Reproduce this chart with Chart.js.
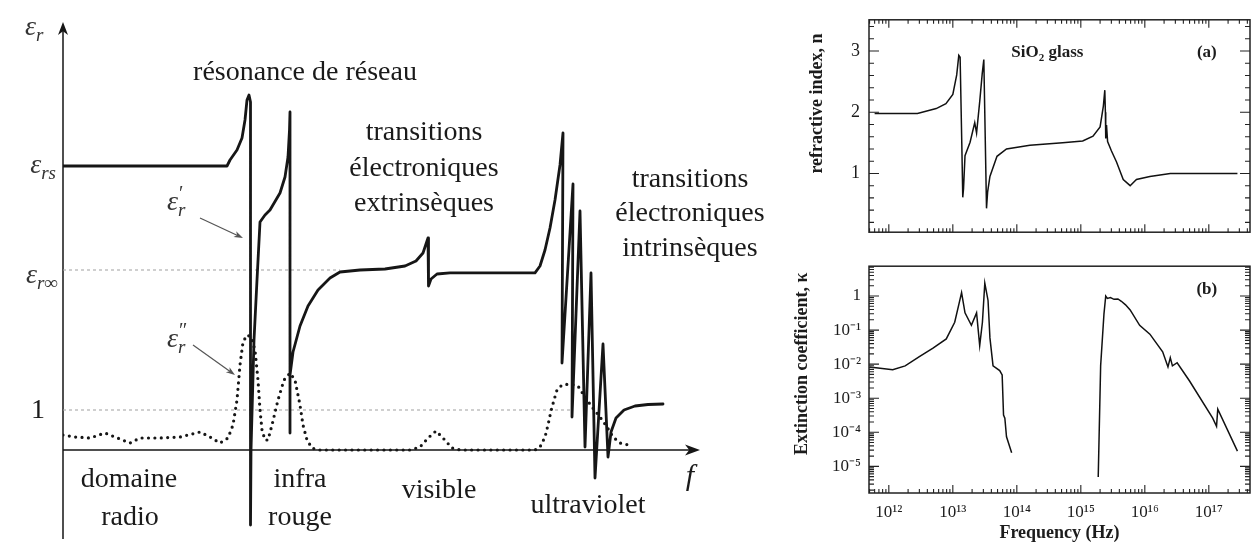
<!DOCTYPE html>
<html>
<head>
<meta charset="utf-8">
<script src="https://cdn.jsdelivr.net/npm/chart.js@4.4.1/dist/chart.umd.min.js"></script>
<style>
html,body{margin:0;padding:0;background:#fff;}
body{width:1257px;height:542px;position:relative;overflow:hidden;}
canvas{position:absolute;}
#left{left:0;top:0;}
#ca{left:790px;top:0;}
#cb{left:790px;top:248px;}
</style>
</head>
<body>
<canvas id="left" width="800" height="542"></canvas>
<canvas id="ca" width="467" height="252"></canvas>
<canvas id="cb" width="467" height="294"></canvas>
<script>
// ================= LEFT SCHEMATIC (ε_r versus f) =================
// x : position along the f axis (arbitrary units), y : ε_r (arbitrary units, 1 = unit level)
const epsPrimeX = [0,164,167,174,179,182,184,186,187.5,187.5,188,189,191,194,197,202,207,217,222,225,226.5,227,227,227,230,237,245,255,267,277,297,322,342,353,360,365,365.5,368,374,387,472,477,482,487,492,497,500,499,510,509,517,522,528,532,540,545,548,553,561,572,585,600];
const epsPrimeY = [7.1,7.1,7.25,7.5,7.8,8.25,8.75,8.875,8.7,-1.875,0,0.925,2.75,4.25,5.7,5.875,6.0,6.425,6.825,7.325,8.0,8.45,0.425,1.875,2.45,3.1,3.6,4.0,4.3,4.45,4.5,4.525,4.6,4.725,4.925,5.3,4.1,4.275,4.4,4.43,4.43,4.6,5.0,5.55,6.25,7.125,7.925,2.175,6.65,0.825,5.975,0.075,4.425,-0.7,2.65,-0.175,0.45,0.8,1.0,1.1,1.1375,1.15];
const epsSecondX = [0,12,27,42,52,67,77,97,117,137,147,157,165,170,174,177,180,184,188,192,195,197,199,202,205,209,215,221,227,232,237,240,244,249,255,347,357,365,373,380,389,397,472,477,482,485,488,491,494,499,507,515,522,529,537,544,550,557,570];
const epsSecondY = [0.375,0.325,0.3,0.425,0.325,0.175,0.3,0.3,0.325,0.45,0.325,0.175,0.3,0.625,1.25,2.125,2.7,2.875,2.825,2.5,1.75,1.0,0.5,0.25,0.25,0.625,1.25,1.75,1.925,1.75,1.125,0.625,0.25,0.05,0,0,0.075,0.3,0.475,0.3,0.05,0,0,0.075,0.325,0.625,0.975,1.25,1.5,1.625,1.65,1.6,1.325,1.075,0.825,0.575,0.325,0.175,0.1];
const levelValues = [7.1, 4.5, 1];          // ε_rs, ε_r∞, 1
const levelLineEnds = [0, 277, 509];          // extent of the dotted guide lines (ε_rs has none)

// ================= RIGHT PANELS (SiO2 glass) =================
const freqN = [6.0e11,2.8e12,5.5e12,7.8e12,1.0e13,1.15e13,1.24e13,1.30e13,1.38e13,1.43e13,1.47e13,1.55e13,1.86e13,2.2e13,2.35e13,2.64e13,2.88e13,3.05e13,3.36e13,3.5e13,3.8e13,4.9e13,6.9e13,1.6e14,5.2e14,1.07e15,1.55e15,2.0e15,2.25e15,2.37e15,2.42e15,2.45e15,2.52e15,2.62e15,3.0e15,3.6e15,4.6e15,5.9e15,7.4e15,1.2e16,2.5e16,2.8e17];
const nValues = [1.98,1.98,2.06,2.14,2.29,2.61,2.93,2.90,1.5,0.61,0.75,1.29,1.51,1.83,1.66,2.19,2.63,2.86,0.43,0.7,0.95,1.28,1.40,1.46,1.50,1.53,1.61,1.76,2.1,2.36,2.0,1.57,1.79,1.52,1.37,1.19,0.90,0.80,0.90,0.95,1.0,1.0];
const freqK1 = [5.0e11,1.15e12,1.8e12,3.0e12,4.9e12,7.9e12,1.07e13,1.25e13,1.37e13,1.55e13,1.95e13,2.35e13,2.63e13,2.9e13,3.16e13,3.55e13,3.8e13,4.25e13,5.4e13,5.9e13,6.2e13,6.5e13,6.9e13,8.3e13];
const kappa1 = [8.3e-3,6.9e-3,8.9e-3,1.66e-2,2.95e-2,5.5e-2,0.17,0.6,1.26,0.32,0.138,0.32,0.035,0.17,2.4,0.74,0.059,0.0089,0.0065,0.0048,3.2e-4,2.6e-4,7.4e-5,2.5e-5];
const freqK2 = [1.87e15,2.04e15,2.3e15,2.45e15,2.6e15,2.9e15,3.3e15,3.8e15,4.3e15,5.0e15,5.9e15,8.3e15,1.2e16,1.9e16,2.3e16,2.5e16,2.7e16,3.2e16,5.0e16,1.15e17,1.32e17,1.38e17,2.8e17];
const kappa2 = [4.9e-6,8.9e-3,0.3,1.0,0.85,0.9,0.8,0.82,0.7,0.55,0.39,0.138,0.076,0.023,0.0083,0.0155,0.0089,0.011,3.2e-3,2.6e-4,1.5e-4,4.8e-4,2.8e-5];

const xMajorValues = [1e12,1e13,1e14,1e15,1e16,1e17];
const xTickLabels = ['10¹²','10¹³','10¹⁴','10¹⁵','10¹⁶','10¹⁷'];
const nTickValues = [0.2,0.4,0.6,0.8,1,1.2,1.4,1.6,1.8,2,2.2,2.4,2.6,2.8,3,3.2,3.4];
const nMajorValues = [1,2,3];
const nTickLabels = ['1','2','3'];
const kMajorValues = [1e-5,1e-4,1e-3,1e-2,1e-1,1];
const kTickLabels = ['10⁻⁵','10⁻⁴','10⁻³','10⁻²','10⁻¹','1'];

const X_MIN = 4.9e11, X_MAX = 4.4e17, K_MIN = 1.65e-6, K_MAX = 7.5;

function logTicks(lo, hi, e0, e1) {
  const out = [];
  for (let e = e0; e <= e1; e++) for (let s = 1; s <= 9; s++) {
    const v = s * Math.pow(10, e);
    if (v >= lo && v <= hi) out.push(v);
  }
  return out;
}
const xAllTicks = logTicks(X_MIN, X_MAX, 11, 17);
const kAllTicks = logTicks(K_MIN, K_MAX, -6, 0);
const isIn = (arr, v) => arr.some(m => Math.abs(m - v) <= Math.abs(m) * 1e-9);

const SERIF = "'Liberation Serif', 'Times New Roman', serif";
const INK = '#161616';

function stealth(ctx, tx, ty, ang, len, hw) {
  const c = Math.cos(ang), s = Math.sin(ang);
  const p = (a, b) => [tx + a * c - b * s, ty + a * s + b * c];
  ctx.beginPath();
  let q = p(0, 0); ctx.moveTo(q[0], q[1]);
  q = p(-len, -hw); ctx.lineTo(q[0], q[1]);
  q = p(-len * 0.72, 0); ctx.lineTo(q[0], q[1]);
  q = p(-len, hw); ctx.lineTo(q[0], q[1]);
  ctx.closePath(); ctx.fill();
}
function drawMath(ctx, parts, x, y, align) {
  let w = 0, cur = 0;
  parts.forEach((p, i) => {
    ctx.font = (p.italic ? 'italic ' : '') + p.size + 'px ' + SERIF;
    const pw = ctx.measureText(p.t).width;
    if (p.stack) { p._x = parts[i - 1]._x; cur = Math.max(cur, p._x + pw); }
    else { p._x = cur; cur += pw; }
    w = Math.max(w, cur);
  });
  const x0 = align === 'right' ? x - w : (align === 'center' ? x - w / 2 : x);
  ctx.textAlign = 'left'; ctx.textBaseline = 'alphabetic';
  parts.forEach(p => {
    ctx.font = (p.italic ? 'italic ' : '') + p.size + 'px ' + SERIF;
    ctx.fillText(p.t, x0 + p._x + (p.dx || 0), y + (p.dy || 0));
  });
}

const leftTexts = [
  ['résonance de réseau', 242, 9.43],
  ['transitions', 361, 7.925], ['électroniques', 361, 7.025], ['extrinsèques', 361, 6.15],
  ['transitions', 627, 6.75], ['électroniques', 627, 5.9], ['intrinsèques', 627, 5.025],
  ['domaine', 66, -0.75], ['radio', 67, -1.7], ['infra', 237, -0.75], ['rouge', 237, -1.7],
  ['visible', 376, -1.025], ['ultraviolet', 525, -1.4]
];

const leftDecor = {
  id: 'leftDecor',
  beforeDatasetsDraw(chart) {
    const {ctx, scales: {x, y}} = chart;
    ctx.save();
    ctx.strokeStyle = INK; ctx.fillStyle = INK; ctx.lineWidth = 1.5;
    const x0 = x.getPixelForValue(0), y0 = y.getPixelForValue(0);
    const yTop = y.getPixelForValue(10.7), yBot = y.getPixelForValue(y.min);
    const xEnd = x.getPixelForValue(x.max);
    ctx.beginPath();
    ctx.moveTo(x0, yBot); ctx.lineTo(x0, yTop + 8);
    ctx.moveTo(x0, y0); ctx.lineTo(xEnd - 8, y0);
    ctx.stroke();
    stealth(ctx, x0, yTop, -Math.PI / 2, 13, 5);
    stealth(ctx, xEnd, y0, 0, 15, 5.5);
    ctx.restore();
  },
  afterDatasetsDraw(chart) {
    const {ctx, scales: {x, y}} = chart;
    const X = v => x.getPixelForValue(v), Y = v => y.getPixelForValue(v);
    ctx.save();
    ctx.fillStyle = '#1a1a1a';
    ctx.font = '28px ' + SERIF; ctx.textAlign = 'center'; ctx.textBaseline = 'middle';
    leftTexts.forEach(t => ctx.fillText(t[0], X(t[1]), Y(t[2])));
    ctx.font = 'italic 30px ' + SERIF;
    ctx.fillText('f', X(627), Y(-0.675));
    ctx.fillStyle = '#333';
    drawMath(ctx, [{t:'ε', size:28, italic:true}, {t:'r', size:19, dy:6, italic:true}], X(-38), Y(10.375), 'left');
    drawMath(ctx, [{t:'ε', size:28, italic:true}, {t:'rs', size:19, dy:6, italic:true}], X(-7), Y(6.925), 'right');
    drawMath(ctx, [{t:'ε', size:28, italic:true}, {t:'r∞', size:19, dy:6, italic:true}], X(-5), Y(4.175), 'right');
    ctx.fillStyle = '#1a1a1a';
    drawMath(ctx, [{t:'1', size:28}], X(-25), Y(0.8), 'center');
    ctx.fillStyle = '#333';
    drawMath(ctx, [{t:'ε', size:28, italic:true}, {t:'′', size:20, dy:-10, dx:1}, {t:'r', size:19, dy:6, italic:true, stack:true}], X(104), Y(6.0), 'left');
    drawMath(ctx, [{t:'ε', size:28, italic:true}, {t:'″', size:20, dy:-10, dx:1}, {t:'r', size:19, dy:6, italic:true, stack:true}], X(104), Y(2.575), 'left');
    ctx.strokeStyle = '#555'; ctx.fillStyle = '#555'; ctx.lineWidth = 1.2;
    [[137, 5.8, 180, 5.3], [130, 2.625, 172, 1.875]].forEach(a => {
      const x1 = X(a[0]), y1 = Y(a[1]), x2 = X(a[2]), y2 = Y(a[3]);
      const ang = Math.atan2(y2 - y1, x2 - x1);
      ctx.beginPath(); ctx.moveTo(x1, y1); ctx.lineTo(x2 - 6 * Math.cos(ang), y2 - 6 * Math.sin(ang)); ctx.stroke();
      stealth(ctx, x2, y2, ang, 9, 3.2);
    });
    ctx.restore();
  }
};

const frameTicks = {
  id: 'frameTicks',
  afterDatasetsDraw(chart, args, opts) {
    const {ctx, chartArea: a, scales: {x, y}} = chart;
    ctx.save();
    ctx.strokeStyle = '#222'; ctx.lineWidth = 1.5;
    ctx.strokeRect(a.left, a.top, a.width, a.height);
    ctx.lineWidth = 1.1;
    ctx.beginPath();
    xAllTicks.forEach(v => {
      const px = x.getPixelForValue(v);
      const L = isIn(xMajorValues, v) ? 8 : 4;
      if (opts.bottom) { ctx.moveTo(px, a.bottom); ctx.lineTo(px, a.bottom - L); }
      if (opts.top) { ctx.moveTo(px, a.top); ctx.lineTo(px, a.top + L); }
    });
    opts.yTicks.forEach(v => {
      const py = y.getPixelForValue(v);
      const L = isIn(opts.yMajor, v) ? 10 : 5;
      ctx.moveTo(a.left, py); ctx.lineTo(a.left + L, py);
      ctx.moveTo(a.right, py); ctx.lineTo(a.right - L, py);
    });
    ctx.stroke();
    ctx.fillStyle = '#1c1c1c'; ctx.textBaseline = 'middle'; ctx.textAlign = 'center';
    (opts.texts || []).forEach(t => {
      const px = x.getPixelForValue(t.x), py = y.getPixelForValue(t.y);
      if (t.sub) {
        ctx.font = 'bold 17px ' + SERIF;
        const w1 = ctx.measureText(t.text).width, w3 = ctx.measureText(t.after).width;
        ctx.font = 'bold 11px ' + SERIF;
        const w2 = ctx.measureText(t.sub).width;
        const sx = px - (w1 + w2 + w3) / 2;
        ctx.textAlign = 'left';
        ctx.font = 'bold 17px ' + SERIF; ctx.fillText(t.text, sx, py);
        ctx.font = 'bold 11px ' + SERIF; ctx.fillText(t.sub, sx + w1, py + 5);
        ctx.font = 'bold 17px ' + SERIF; ctx.fillText(t.after, sx + w1 + w2, py);
        ctx.textAlign = 'center';
      } else {
        ctx.font = 'bold 17px ' + SERIF;
        ctx.fillText(t.text, px, py);
      }
    });
    ctx.restore();
  }
};

new Chart(document.getElementById('left'), {
  type: 'line',
  data: {
    datasets: [
      { label: "ε′r", data: epsPrimeX.map((v, i) => ({x: v, y: epsPrimeY[i]})),
        borderColor: INK, borderWidth: 2.8, pointRadius: 0, tension: 0,
        borderJoinStyle: 'round', borderCapStyle: 'round' },
      { label: "ε″r", data: epsSecondX.map((v, i) => ({x: v, y: epsSecondY[i]})),
        borderColor: INK, borderWidth: 3.2, borderDash: [0, 6.4], borderCapStyle: 'round',
        pointRadius: 0, tension: 0 },
      { label: 'εr∞', data: [{x: 0, y: levelValues[1]}, {x: levelLineEnds[1], y: levelValues[1]}],
        borderColor: '#a0a0a0', borderWidth: 1, borderDash: [3, 3], pointRadius: 0 },
      { label: '1', data: [{x: 0, y: levelValues[2]}, {x: levelLineEnds[2], y: levelValues[2]}],
        borderColor: '#a0a0a0', borderWidth: 1, borderDash: [3, 3], pointRadius: 0 }
    ]
  },
  options: {
    responsive: false, animation: false, events: [],
    layout: { padding: { left: 63, right: 100, top: 26, bottom: 3 } },
    plugins: { legend: { display: false }, tooltip: { enabled: false } },
    scales: {
      x: { type: 'linear', display: false, min: 0, max: 637 },
      y: { type: 'linear', display: false, min: -2.225, max: 10.6 }
    }
  },
  plugins: [leftDecor]
});

new Chart(document.getElementById('ca'), {
  type: 'line',
  data: { datasets: [{ label: 'n', data: freqN.map((f, i) => ({x: f, y: nValues[i]})),
    borderColor: '#111', borderWidth: 1.5, pointRadius: 0, tension: 0 }] },
  options: {
    responsive: false, animation: false, events: [],
    layout: { padding: { top: 7, right: 7, bottom: 2, left: 0 } },
    plugins: { legend: { display: false }, tooltip: { enabled: false },
      frameTicks: { top: true, bottom: true, yTicks: nTickValues, yMajor: nMajorValues,
        texts: [ { text: 'SiO', sub: '2', after: ' glass', x: 3.0e14, y: 2.97 }, { text: '(a)', x: 9.3e16, y: 2.97 } ] } },
    scales: {
      x: { type: 'logarithmic', min: X_MIN, max: X_MAX, display: false },
      y: { type: 'linear', min: 0.04, max: 3.51,
        afterFit(s) { s.width = 79; },
        afterBuildTicks(s) { s.ticks = nTickValues.map(v => ({value: v})); },
        grid: { display: false, drawTicks: false }, border: { display: false },
        ticks: { padding: 9, autoSkip: false, color: '#1c1c1c', font: { family: SERIF, size: 18 },
          callback: v => { const i = nMajorValues.findIndex(m => Math.abs(m - v) < 1e-9); return i >= 0 ? nTickLabels[i] : ''; } },
        title: { display: true, text: '          refractive index, n', color: '#1c1c1c',
          font: { family: SERIF, size: 18, weight: 'bold', lineHeight: 1.2 }, padding: { top: 17, bottom: 0 } } }
    }
  },
  plugins: [frameTicks]
});

const kappaData = freqK1.map((f, i) => ({x: f, y: kappa1[i]}))
  .concat([{x: 3e14, y: null}])
  .concat(freqK2.map((f, i) => ({x: f, y: kappa2[i]})));

new Chart(document.getElementById('cb'), {
  type: 'line',
  data: { datasets: [{ label: 'κ', data: kappaData, spanGaps: false,
    borderColor: '#111', borderWidth: 1.5, pointRadius: 0, tension: 0 }] },
  options: {
    responsive: false, animation: false, events: [],
    layout: { padding: { top: 2, right: 7, bottom: 0, left: 0 } },
    plugins: { legend: { display: false }, tooltip: { enabled: false },
      frameTicks: { top: false, bottom: true, yTicks: kAllTicks, yMajor: kMajorValues,
        texts: [ { text: '(b)', x: 9.3e16, y: 1.55 } ] } },
    scales: {
      x: { type: 'logarithmic', min: X_MIN, max: X_MAX, position: 'bottom',
        afterFit(s) { s.height = 49; },
        afterBuildTicks(s) { s.ticks = xMajorValues.map(v => ({value: v})); },
        grid: { display: false, drawTicks: false }, border: { display: false },
        ticks: { padding: 9, autoSkip: false, maxRotation: 0, color: '#1c1c1c', font: { family: SERIF, size: 17 },
          callback: (v, i) => xTickLabels[i] },
        title: { display: true, text: 'Frequency (Hz)', color: '#1c1c1c',
          font: { family: SERIF, size: 18, weight: 'bold', lineHeight: 1 }, padding: { top: 0, bottom: 0 } } },
      y: { type: 'logarithmic', min: K_MIN, max: K_MAX,
        afterFit(s) { s.width = 79; },
        afterBuildTicks(s) { s.ticks = kMajorValues.map(v => ({value: v})); },
        grid: { display: false, drawTicks: false }, border: { display: false },
        ticks: { padding: 8, autoSkip: false, color: '#1c1c1c', font: { family: SERIF, size: 17 },
          callback: (v, i) => kTickLabels[i] },
        title: { display: true, text: '       Extinction coefficient, κ', color: '#1c1c1c',
          font: { family: SERIF, size: 18, weight: 'bold', lineHeight: 1.2 }, padding: { top: 2, bottom: 0 } } }
    }
  },
  plugins: [frameTicks]
});
</script>
</body>
</html>
